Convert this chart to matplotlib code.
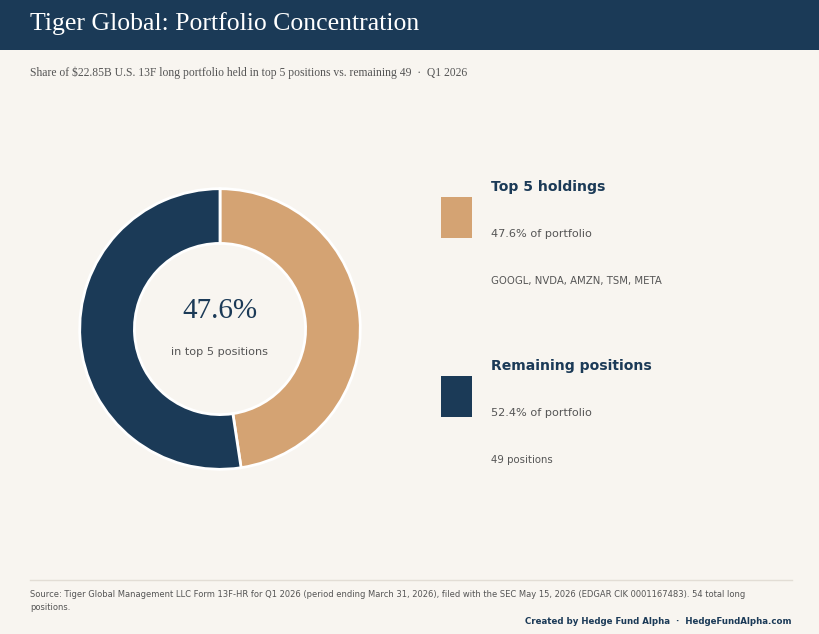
import matplotlib
matplotlib.use("Agg")
import matplotlib.pyplot as plt
from matplotlib.patches import Rectangle

# data
labels = ["Top 5 holdings", "Remaining positions"]
shares = [47.6, 52.4]
details = ["GOOGL, NVDA, AMZN, TSM, META", "49 positions"]
colors = ["#d4a373", "#1b3a57"]

title = "Tiger Global: Portfolio Concentration"
subtitle = "Share of $22.85B U.S. 13F long portfolio held in top 5 positions vs. remaining 49  \u00b7  Q1 2026"
source = ("Source: Tiger Global Management LLC Form 13F-HR for Q1 2026 (period ending March 31, 2026), "
          "filed with the SEC May 15, 2026 (EDGAR CIK 0001167483). 54 total long\npositions.")
credit = "Created by Hedge Fund Alpha  \u00b7  HedgeFundAlpha.com"

W, H = 820, 634
BG = "#f8f5f0"
NAVY = "#1b3a57"
GRAY = "#555555"
SERIF = ["Liberation Serif", "DejaVu Serif"]

fig = plt.figure(figsize=(W / 100, H / 100), dpi=100, facecolor=BG)


def fx(x):
    return x / W


def fy(y):
    return 1 - y / H


# header band
fig.patches.append(Rectangle((0, fy(50)), 1, 50 / H, transform=fig.transFigure,
                             facecolor=NAVY, edgecolor="none", zorder=0))
fig.text(fx(30), fy(24), title, color="white", fontsize=18.5, family=SERIF,
         va="center", ha="left")
fig.text(fx(30), fy(73), subtitle, color=GRAY, fontsize=8.4, family=SERIF,
         va="center", ha="left")

# donut
cx, cy, r = 220, 329, 141
ax = fig.add_axes([fx(cx - r), fy(cy + r), 2 * r / W, 2 * r / H])
ax.set_facecolor(BG)
ax.pie(shares, colors=colors, startangle=90, counterclock=False, radius=1,
       wedgeprops=dict(width=0.39, edgecolor="white", linewidth=2))
ax.set_xlim(-1.005, 1.005)
ax.set_ylim(-1.005, 1.005)
ax.set_aspect("equal")
ax.axis("off")

fig.text(fx(cx), fy(311), f"{shares[0]:.1f}%", color=NAVY, fontsize=21, family=SERIF,
         ha="center", va="center")
fig.text(fx(cx), fy(352), "in top 5 positions", color=GRAY, fontsize=8.1,
         ha="center", va="center")

# legend blocks
for i, (lab, val, det, col) in enumerate(zip(labels, shares, details, colors)):
    y0 = 187 + i * 179
    fig.patches.append(Rectangle((fx(441), fy(y0 + 51)), 31 / W, 41 / H,
                                 transform=fig.transFigure, facecolor=col,
                                 edgecolor="none"))
    fig.text(fx(491), fy(y0), lab, color=NAVY, fontsize=10.1, fontweight="bold",
             ha="left", va="center")
    fig.text(fx(491), fy(y0 + 47), f"{val:.1f}% of portfolio", color=GRAY,
             fontsize=8.1, ha="left", va="center")
    fig.text(fx(491), fy(y0 + 94), det, color=GRAY, fontsize=7.3,
             ha="left", va="center")

# footer
fig.add_artist(plt.Line2D([fx(30), fx(792)], [fy(580), fy(580)],
                          transform=fig.transFigure, color="#e2ddd5", linewidth=1))
fig.text(fx(30), fy(590), source, color=GRAY, fontsize=6.0, ha="left", va="top",
         linespacing=1.6)
fig.text(fx(792), fy(622), credit, color=NAVY, fontsize=6.2, fontweight="bold",
         ha="right", va="center")

fig.savefig("out.png", dpi=100, facecolor=BG)
